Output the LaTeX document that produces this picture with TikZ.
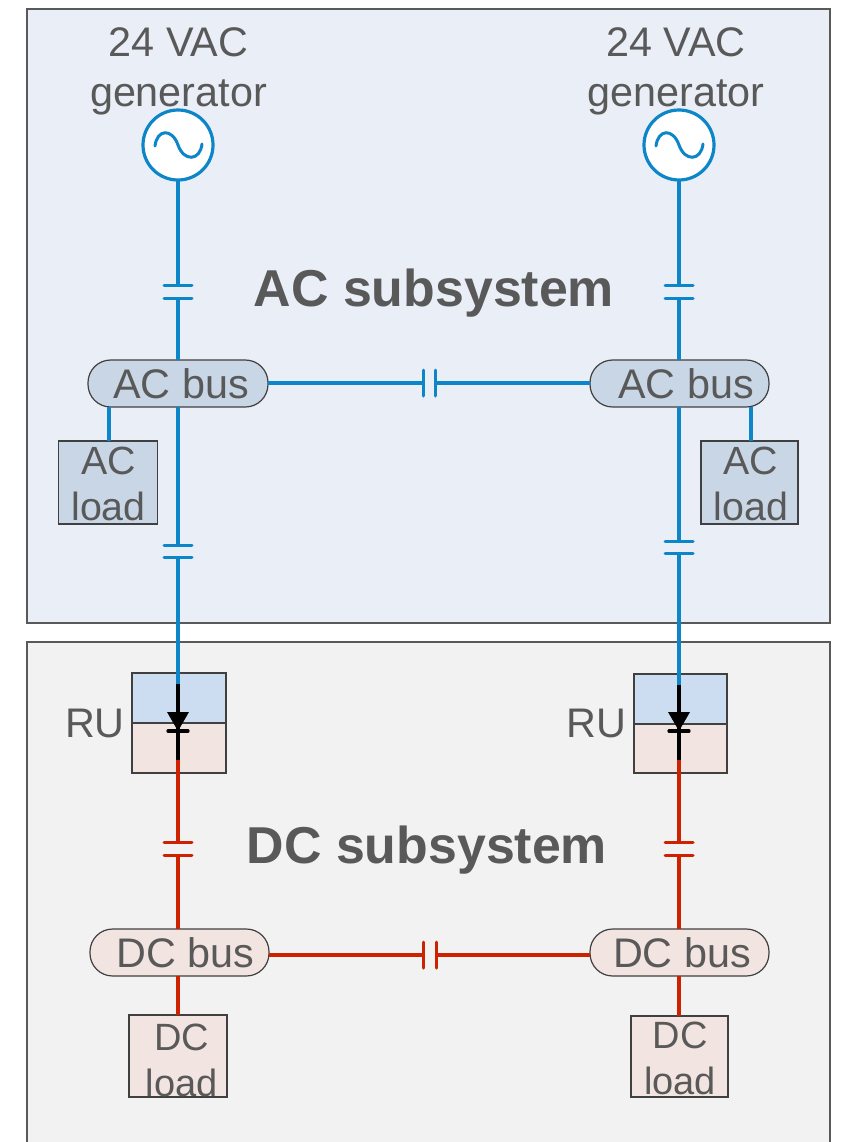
\documentclass[tikz,border=0pt]{standalone}
\usepackage{fontspec}
\setmainfont{Liberation Sans}
\usetikzlibrary{calc}
\definecolor{acline}{HTML}{0C86C8}
\definecolor{dcline}{HTML}{CC2200}
\definecolor{acbg}{HTML}{E9EEF7}
\definecolor{dcbg}{HTML}{F2F2F2}
\definecolor{acfill}{HTML}{C8D6E5}
\definecolor{rutop}{HTML}{CCDDF2}
\definecolor{dcfill}{HTML}{F2E4E0}
\definecolor{edge}{HTML}{404040}
\definecolor{txt}{HTML}{595959}
\tikzset{
  sz/.style 2 args={minimum width=#1*0.75pt,minimum height=#2*0.75pt,inner sep=0pt,outer sep=0pt},
  panel/.style={draw=txt,line width=0.9pt,inner sep=0pt,outer sep=0pt},
  shapebox/.style={draw=edge,line width=0.9pt},
  busbox/.style={shapebox,rounded corners=17pt,text=txt,font=\fontsize{31}{34.5}\selectfont},
  lab/.style={text=txt,font=\fontsize{31}{34.5}\selectfont,inner sep=0pt,align=center},
  genlab/.style={lab,font=\fontsize{31}{37.5}\selectfont},
  acloadlab/.style={lab,font=\fontsize{29.5}{34.5}\selectfont},
  dcloadlab/.style={lab,font=\fontsize{28.5}{34.5}\selectfont},
  title/.style={text=txt,font=\fontsize{38.9}{42}\selectfont\bfseries,inner sep=0pt},
  acw/.style={draw=acline,line width=2.4pt},
  dcw/.style={draw=dcline,line width=2.4pt},
  dcv/.style={draw=dcline,line width=3pt},
  dw/.style={draw=black,line width=2.4pt},
  plate/.style={line width=2.25pt,line cap=round},
}
\begin{document}
\begin{tikzpicture}[x=0.75pt,y=-0.75pt]
\useasboundingbox (0,0) rectangle (844,1142);
\fill[white] (0,0) rectangle (844,1142);
% panels
\path[panel,fill=acbg] (27,9) rectangle (830,623);
\path[panel,fill=dcbg] (27,642) rectangle (830,1150);
\node[title] (actitle) at (434,293) {AC subsystem};
\node[title] (dctitle) at (427,850) {DC subsystem};
% nodes
\node[circle,draw=acline,line width=2.4pt,fill=white,sz={70}{70}] (gen1) at (178,145) {};
\node[circle,draw=acline,line width=2.4pt,fill=white,sz={70}{70}] (gen2) at (679,145) {};
\node[genlab] (gen1l) at (178.5,71) {24 VAC\\generator};
\node[genlab] (gen2l) at (676,71) {24 VAC\\generator};
\draw[acline,line width=2.25pt,line cap=round] (155,146) .. controls (157,129) and (172,128) .. (178,145) .. controls (184,162) and (200,161) .. (202,144);
\draw[acline,line width=2.25pt,line cap=round] (656,146) .. controls (658,129) and (673,128) .. (679,145) .. controls (685,162) and (701,161) .. (703,144);
\node[busbox,fill=acfill,sz={180}{47}] (acbus1) at (178,383.5) {\kern4.5pt AC bus};
\node[busbox,fill=acfill,sz={179}{47}] (acbus2) at (679.5,383.5) {\kern9.75pt AC bus};
\node[busbox,fill=dcfill,sz={179}{47}] (dcbus1) at (179.5,952.5) {\kern9pt DC bus};
\node[busbox,fill=dcfill,sz={179}{47}] (dcbus2) at (679.5,952.5) {\kern3.75pt DC bus};
\node[shapebox,fill=acfill,sz={99}{83}] (acload1) at (108,482.5) {};
\node[shapebox,fill=acfill,sz={97}{83}] (acload2) at (749.5,482.5) {};
\node[shapebox,fill=dcfill,sz={98}{82}] (dcload1) at (178,1056) {};
\node[shapebox,fill=dcfill,sz={97}{81}] (dcload2) at (679.5,1056.5) {};
\node[acloadlab] (acload1l) at (108.5,484) {AC\\load};
\node[acloadlab] (acload2l) at (751,484) {AC\\load};
\node[dcloadlab] (dcload1l) at (181.5,1060) {DC\\load};
\node[dcloadlab] (dcload2l) at (680,1058) {DC\\load};
\node[shapebox,fill=rutop,sz={94}{50}] (ru1t) at (179,698) {};
\node[shapebox,fill=dcfill,sz={94}{50}] (ru1b) at (179,748) {};
\node[shapebox,fill=rutop,sz={93}{50}] (ru2t) at (680.5,699) {};
\node[shapebox,fill=dcfill,sz={93}{49}] (ru2b) at (680.5,748.5) {};
\node[lab] (ru1l) at (95,723) {RU};
\node[lab] (ru2l) at (596,723) {RU};
% capacitor and diode points
\foreach \n/\x/\ya/\yb in {a/178/285/298,b/679/285/298,c/178/545/557,d/679/541/553,e/178/842/855,f/679/842/855}{
  \coordinate (cap\n1) at (\x,\ya);
  \coordinate (cap\n2) at (\x,\yb);
}
\coordinate (capg1) at (423,383);\coordinate (capg2) at (435,383);
\coordinate (caph1) at (423,955);\coordinate (caph2) at (436,955);
\coordinate (d1in) at (178,684);\coordinate (d1out) at (178,760);
\coordinate (d2in) at (679,685);\coordinate (d2out) at (679,760);
\coordinate (tap1) at (109,0);\coordinate (tap2) at (751,0);
% AC wires
\draw[acw] (capa1 |- gen1.south) -- (capa1);
\draw[acw] (capa2) -- (capa2 |- acbus1.north);
\draw[acw] (capb1 |- gen2.south) -- (capb1);
\draw[acw] (capb2) -- (capb2 |- acbus2.north);
\draw[acw] (capc1 |- acbus1.south) -- (capc1);
\draw[acw] (capc2) -- (d1in);
\draw[acw] (capd1 |- acbus2.south) -- (capd1);
\draw[acw] (capd2) -- (d2in);
\draw[acw] (acbus1.east |- capg1) -- (capg1);
\draw[acw] (capg2) -- (acbus2.west |- capg2);
\draw[acw] (tap1 |- acload1.north) -- (tap1 |- acbus1.south);
\draw[acw] (tap2 |- acload2.north) -- (tap2 |- acbus2.south);
% DC wires
\draw[dcw] (d1out) -- (cape1);
\draw[dcv] (cape2) -- (cape2 |- dcbus1.north);
\draw[dcw] (d2out) -- (capf1);
\draw[dcv] (capf2) -- (capf2 |- dcbus2.north);
\draw[dcw] (dcbus1.east |- caph1) -- (caph1);
\draw[dcw] (caph2) -- (dcbus2.west |- caph2);
\draw[dcv] (cape1 |- dcbus1.south) -- (cape1 |- dcload1.north);
\draw[dcv] (capf1 |- dcbus2.south) -- (capf1 |- dcload2.north);
% capacitor plates
\foreach \n/\c in {a/acline,b/acline,c/acline,d/acline,e/dcline,f/dcline}{
  \draw[plate,\c] ($(cap\n1)+(-14,0)$) -- ($(cap\n1)+(14,0)$);
  \draw[plate,\c] ($(cap\n2)+(-14,0)$) -- ($(cap\n2)+(14,0)$);
}
\foreach \n/\c in {g/acline,h/dcline}{
  \draw[plate,\c] ($(cap\n1)+(0,-13)$) -- ($(cap\n1)+(0,13)$);
  \draw[plate,\c] ($(cap\n2)+(0,-13)$) -- ($(cap\n2)+(0,13)$);
}
% diodes
\foreach \n/\x in {1/178,2/679}{
  \draw[dw] (d\n in) -- (d\n out);
  \fill[black] (\x-11,712) -- (\x+11,712) -- (\x,731) -- cycle;
  \draw[dw,line cap=round] (\x-10,731) -- (\x+10,731);
}
\end{tikzpicture}
\end{document}
